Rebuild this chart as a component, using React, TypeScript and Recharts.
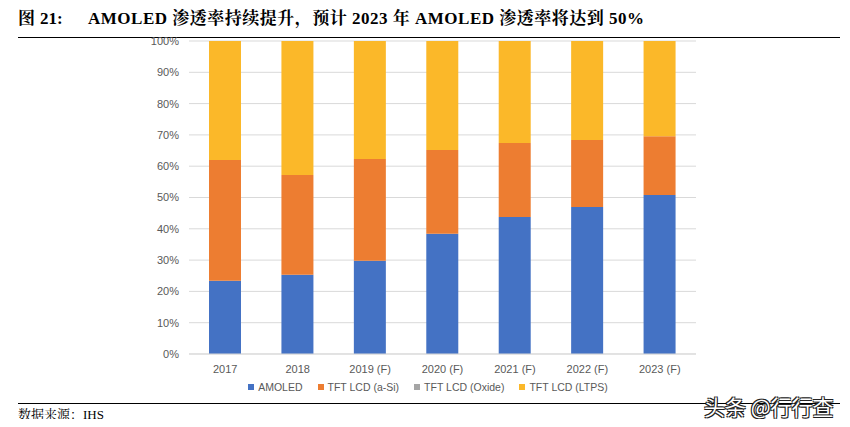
import React from 'react';
import { BarChart, Bar, XAxis, YAxis, CartesianGrid } from 'recharts';

const years = ['2017', '2018', '2019 (F)', '2020 (F)', '2021 (F)', '2022 (F)', '2023 (F)'];
const amoled = [23.4, 25.3, 29.8, 38.4, 43.8, 47.0, 50.8];
const aSi = [38.6, 31.9, 32.5, 26.8, 23.6, 21.4, 18.8];
const oxide = [0, 0, 0, 0, 0, 0, 0];
const ltps = [38.0, 42.8, 37.7, 34.8, 32.6, 31.6, 30.4];
const yTicks = [0, 10, 20, 30, 40, 50, 60, 70, 80, 90, 100];

const seriesNames = ['AMOLED', 'TFT LCD (a-Si)', 'TFT LCD (Oxide)', 'TFT LCD (LTPS)'];
const seriesColors = ['#4472C4', '#ED7D31', '#A5A5A5', '#FBB829'];

const data = years.map((y, i) => ({
  year: y,
  amoled: amoled[i],
  aSi: aSi[i],
  oxide: oxide[i],
  ltps: ltps[i],
}));

const fontSans = '"Liberation Sans", "Noto Sans CJK SC", sans-serif';
const fontSerif = '"Liberation Serif", "Noto Serif CJK SC", "Noto Sans CJK SC", serif';

const titleStyle: React.CSSProperties = {
  position: 'absolute',
  top: 9,
  height: 20,
  lineHeight: '20px',
  fontFamily: fontSerif,
  fontWeight: 'bold',
  fontSize: 17,
  color: '#000',
  whiteSpace: 'nowrap',
};

export default function App() {
  return (
    <div
      style={{
        position: 'relative',
        width: 850,
        height: 427,
        margin: -8,
        background: '#fff',
        overflow: 'hidden',
      }}
    >
      <div style={{ ...titleStyle, left: 18 }}>图</div>
      <div style={{ ...titleStyle, left: 40 }}>21:</div>
      <div style={{ ...titleStyle, left: 88, letterSpacing: 0.5 }}>
        AMOLED 渗透率持续提升，预计 2023 年 AMOLED 渗透率将达到 50%
      </div>
      <div style={{ position: 'absolute', left: 18, top: 37, width: 822, height: 1, background: '#000' }} />
      <div style={{ position: 'absolute', left: 0, top: 0 }}>
        <BarChart
          width={850}
          height={427}
          data={data}
          margin={{ top: 41, right: 154, left: 139, bottom: 43 }}
        >
          <CartesianGrid vertical={false} stroke="#D9D9D9" />
          <XAxis
            dataKey="year"
            height={30}
            axisLine={{ stroke: '#D9D9D9' }}
            tickLine={false}
            tickSize={0}
            tickMargin={11}
            tick={{ fill: '#595959', fontSize: 11, fontFamily: fontSans }}
            interval={0}
          />
          <YAxis
            width={50}
            domain={[0, 100]}
            ticks={yTicks}
            axisLine={false}
            tickLine={false}
            tickSize={0}
            tickMargin={10}
            tickFormatter={(v: number) => `${v}%`}
            tick={{ fill: '#595959', fontSize: 11, fontFamily: fontSans }}
          />
          <Bar dataKey="amoled" name={seriesNames[0]} stackId="a" fill={seriesColors[0]} barSize={32} isAnimationActive={false} />
          <Bar dataKey="aSi" name={seriesNames[1]} stackId="a" fill={seriesColors[1]} barSize={32} isAnimationActive={false} />
          <Bar dataKey="oxide" name={seriesNames[2]} stackId="a" fill={seriesColors[2]} barSize={32} isAnimationActive={false} />
          <Bar dataKey="ltps" name={seriesNames[3]} stackId="a" fill={seriesColors[3]} barSize={32} isAnimationActive={false} />
        </BarChart>
      </div>
      <div
        style={{
          position: 'absolute',
          top: 381,
          left: 0,
          width: 856,
          display: 'flex',
          justifyContent: 'center',
          gap: 15,
          fontFamily: fontSans,
          fontSize: 10.5,
          color: '#595959',
        }}
      >
        {seriesNames.map((n, i) => (
          <div key={n} style={{ display: 'flex', alignItems: 'center' }}>
            <span
              style={{
                display: 'inline-block',
                width: 6,
                height: 6,
                background: seriesColors[i],
                marginRight: 4,
              }}
            />
            <span>{n}</span>
          </div>
        ))}
      </div>
      <div style={{ position: 'absolute', left: 18, top: 403, width: 822, height: 1, background: '#000' }} />
      <div
        style={{
          position: 'absolute',
          left: 18,
          top: 404,
          fontFamily: fontSerif,
          fontSize: 13,
          color: '#000',
          whiteSpace: 'nowrap',
        }}
      >
        数据来源：IHS
      </div>
      <div
        style={{
          position: 'absolute',
          left: 704,
          top: 391,
          fontFamily: '"Noto Sans CJK SC", sans-serif',
          fontSize: 21,
          color: '#fff',
          whiteSpace: 'nowrap',
          textShadow: '1px 1px 0 #222, -1px -1px 0 #222, 1px -1px 0 #222, -1px 1px 0 #222',
        }}
      >
        头条 @行行查
      </div>
    </div>
  );
}
